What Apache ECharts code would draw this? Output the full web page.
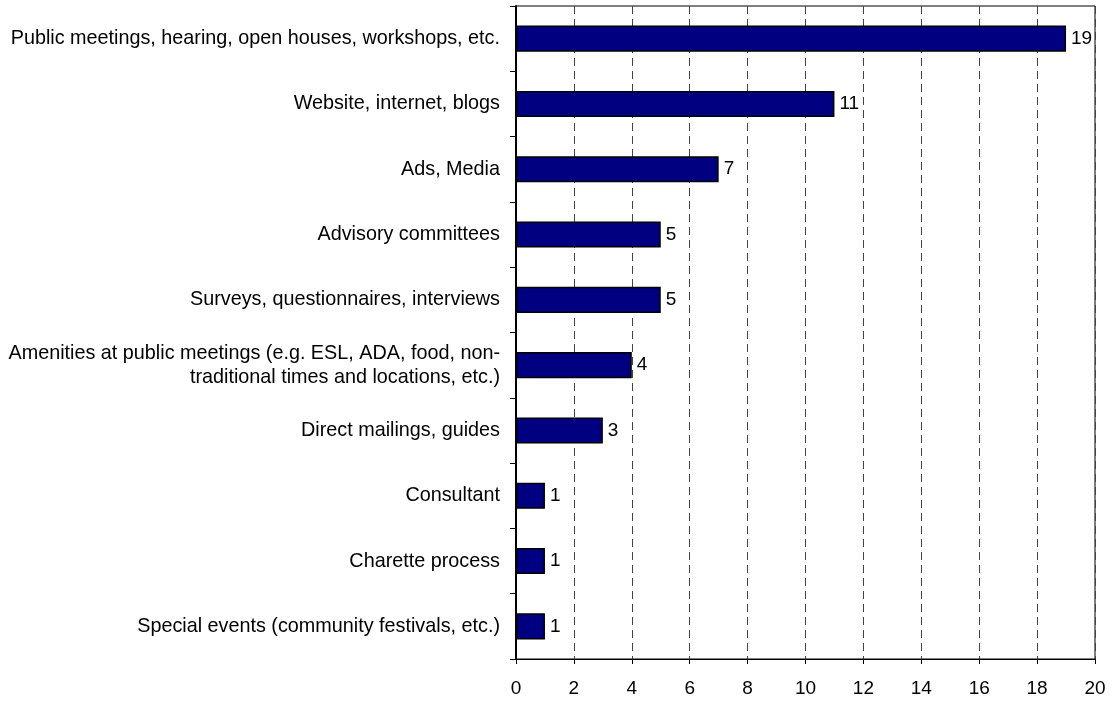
<!DOCTYPE html>
<html>
<head>
<meta charset="utf-8">
<script src="https://cdn.jsdelivr.net/npm/echarts@6/dist/echarts.min.js"></script>
<style>
  html, body { margin: 0; padding: 0; background: #fff; }
  #chart { width: 1112px; height: 702px; }
</style>
</head>
<body>
<div id="chart"></div>
<script>
// Outreach methods, listed top to bottom
const categories = [
  'Public meetings, hearing, open houses, workshops, etc.',
  'Website, internet, blogs',
  'Ads, Media',
  'Advisory committees',
  'Surveys, questionnaires, interviews',
  'Amenities at public meetings (e.g. ESL, ADA, food, non-\ntraditional times and locations, etc.)',
  'Direct mailings, guides',
  'Consultant',
  'Charette process',
  'Special events (community festivals, etc.)'
];
const counts = [19, 11, 7, 5, 5, 4, 3, 1, 1, 1];
const xTicks = [0, 2, 4, 6, 8, 10, 12, 14, 16, 18, 20];

const FONT = '"Liberation Sans", Arial, sans-serif';
const chart = echarts.init(document.getElementById('chart'), null, { renderer: 'canvas' });

chart.setOption({
  animation: false,
  backgroundColor: '#ffffff',
  grid: {
    left: 516, right: 17, top: 6, bottom: 43,
    show: true, borderColor: '#000', borderWidth: 1, backgroundColor: 'transparent'
  },
  xAxis: {
    type: 'value',
    min: xTicks[0],
    max: xTicks[xTicks.length - 1],
    interval: 2,
    axisLine: { show: true, lineStyle: { color: '#000', width: 1 } },
    axisTick: { show: true, length: 5, lineStyle: { color: '#000' } },
    axisLabel: { color: '#000', fontSize: 19, fontFamily: FONT, margin: 20 },
    splitLine: { show: true, lineStyle: { color: '#444', type: [8, 5], width: 1 } }
  },
  yAxis: {
    type: 'category',
    inverse: true,
    data: categories,
    axisLine: { show: true, lineStyle: { color: '#000', width: 2 } },
    axisTick: { show: true, length: 6, lineStyle: { color: '#000' } },
    axisLabel: {
      color: '#000', fontSize: 19.8, fontFamily: FONT, margin: 16,
      align: 'right', lineHeight: 24
    },
    splitLine: { show: false }
  },
  series: [{
    type: 'bar',
    data: counts,
    barCategoryGap: '60%',
    itemStyle: { color: '#000080', borderColor: '#000', borderWidth: 1.5 },
    label: {
      show: true, position: 'right', distance: 5,
      color: '#000', fontSize: 19, fontFamily: FONT
    }
  }]
});
</script>
</body>
</html>
